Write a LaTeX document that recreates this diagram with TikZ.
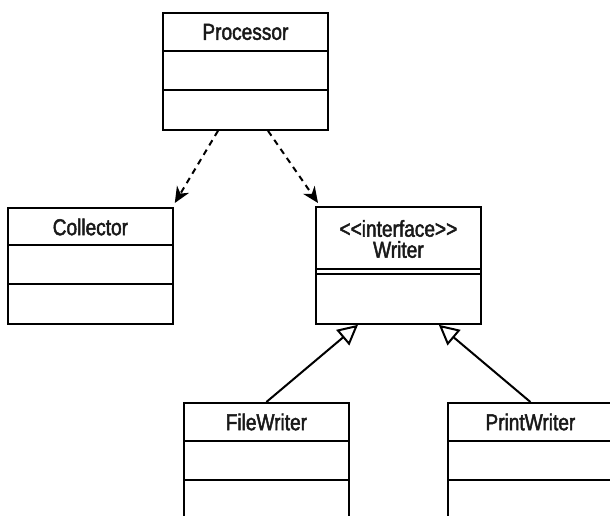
\documentclass[tikz,border=0pt]{standalone}
\usepackage{fontspec}
\setmainfont{Liberation Sans}[FakeStretch=0.83,FakeBold=2]
\usetikzlibrary{arrows.meta,calc}
\begin{document}
\begin{tikzpicture}[x=1pt,y=-1pt,line width=1.8pt,
  classbox/.style={draw,line width=1.8pt,minimum width=165pt,anchor=north west,inner sep=0pt},
  lbl/.style={font=\fontsize{23}{24}\selectfont,text=black!90,align=center},
  dep/.style={dash pattern=on 6pt off 5pt,line width=2pt,-{Stealth[length=16pt,width=14pt,inset=5pt]}},
  inh/.style={line width=2pt,-{Triangle[open,length=20pt,width=20pt,line width=2pt]}}]
\useasboundingbox (0,0) rectangle (610,516);
\clip (0,0) rectangle (610,516);
% Processor
\node[classbox,minimum height=117pt] (proc) at (162,12) {};
\draw ($(proc.north west)+(0,39)$) -- ($(proc.north east)+(0,39)$);
\draw ($(proc.north west)+(0,78)$) -- ($(proc.north east)+(0,78)$);
\node[lbl] (proct) at ($(proc.north)+(0,20)$) {Processor};
% Collector
\node[classbox,minimum height=116pt] (coll) at (7,207) {};
\draw ($(coll.north west)+(0,38)$) -- ($(coll.north east)+(0,38)$);
\draw ($(coll.north west)+(0,77)$) -- ($(coll.north east)+(0,77)$);
\node[lbl] (collt) at ($(coll.north)+(0,20)$) {Collector};
% Writer
\node[classbox,minimum height=117pt] (wri) at (315,206) {};
\draw ($(wri.north west)+(0,63)$) -- ($(wri.north east)+(0,63)$);
\draw ($(wri.north west)+(0,68)$) -- ($(wri.north east)+(0,68)$);
\node[lbl] (writ) at ($(wri.north)+(0,33)$) {{<}{<}interface{>}{>}\\[-3pt]Writer};
% FileWriter
\node[classbox,minimum height=130pt] (filew) at (183,402) {};
\draw ($(filew.north west)+(0,39)$) -- ($(filew.north east)+(0,39)$);
\draw ($(filew.north west)+(0,78)$) -- ($(filew.north east)+(0,78)$);
\node[lbl] (filewt) at ($(filew.north)+(0,20)$) {FileWriter};
% PrintWriter
\node[classbox,minimum height=130pt] (printw) at (447,402) {};
\draw ($(printw.north west)+(0,39)$) -- ($(printw.north east)+(0,39)$);
\draw ($(printw.north west)+(0,78)$) -- ($(printw.north east)+(0,78)$);
\node[lbl] (printwt) at ($(printw.north)+(0,20)$) {PrintWriter};
% dependencies
\draw[dep] ($(proc.south west)+(56,0)$) -- ($(coll.north east)+(1,-4)$);
\draw[dep] ($(proc.south west)+(106,0)$) -- ($(wri.north west)+(3,-3)$);
% realizations
\draw[inh] (filew.north) -- ($(wri.south west)+(43,0)$);
\draw[inh] (printw.north) -- ($(wri.south east)+(-43,0)$);
\end{tikzpicture}
\end{document}
